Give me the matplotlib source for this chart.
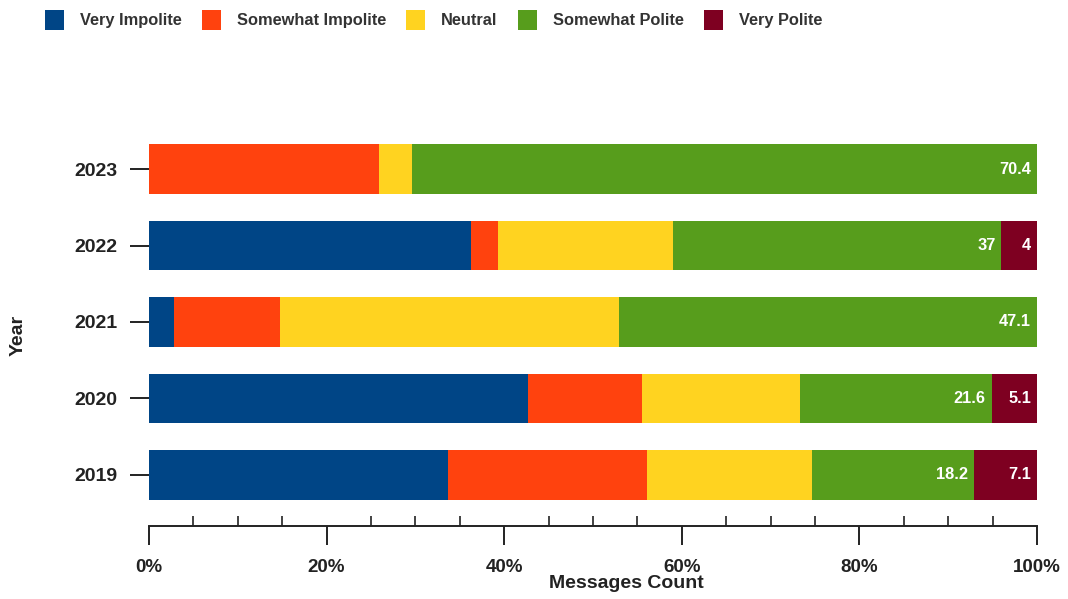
import matplotlib
matplotlib.use("Agg")
import matplotlib.pyplot as plt
from matplotlib.patches import Patch
from matplotlib.ticker import MultipleLocator, FixedLocator, FuncFormatter

plt.rcParams["font.family"] = ["Liberation Sans", "DejaVu Sans"]

years = ["2019", "2020", "2021", "2022", "2023"]
categories = ["Very Impolite", "Somewhat Impolite", "Neutral", "Somewhat Polite", "Very Polite"]
colors = ["#004586", "#ff420e", "#ffd320", "#579d1c", "#7e0021"]

very_impolite = [33.7, 42.7, 2.8, 36.3, 0.0]
somewhat_impolite = [22.4, 12.8, 11.9, 3.0, 25.9]
neutral = [18.6, 17.8, 38.2, 19.7, 3.7]
somewhat_polite = [18.2, 21.6, 47.1, 37.0, 70.4]
very_polite = [7.1, 5.1, 0.0, 4.0, 0.0]

series = [very_impolite, somewhat_impolite, neutral, somewhat_polite, very_polite]
labelled = {"Somewhat Polite", "Very Polite"}

W, H = 1068, 599
fig = plt.figure(figsize=(W / 100, H / 100), dpi=100)
ax = fig.add_axes([149 / W, (H - 526) / H, (1037 - 149) / W, (526 - 130) / H])

pos = list(range(len(years)))
left = [0.0] * len(years)
for name, vals, col in zip(categories, series, colors):
    bars = ax.barh(pos, vals, left=left, height=0.65, color=col, label=name, linewidth=0)
    if name in labelled:
        for b, v in zip(bars, vals):
            if v > 0:
                ax.annotate(f"{v:g}", xy=(b.get_x() + b.get_width(), b.get_y() + b.get_height() / 2),
                            xytext=(-6, 0), textcoords="offset pixels", ha="right", va="center",
                            color="white", fontsize=11.8, fontweight="bold")
    left = [l + v for l, v in zip(left, vals)]

ax.set_xlim(0, 100)
ax.set_ylim(-0.667, 4.51)
ax.set_yticks(pos)
ax.set_yticklabels(years, fontsize=14, fontweight="bold", color="#222222")

ax.xaxis.set_major_locator(MultipleLocator(20))
ax.xaxis.set_minor_locator(FixedLocator([x for x in range(5, 100, 5) if x % 20 != 0]))
ax.xaxis.set_major_formatter(FuncFormatter(lambda v, p: f"{v:.0f}%"))
ax.tick_params(axis="x", which="major", direction="out", length=14, width=1.4,
               pad=10, labelsize=13.5, color="#222222", labelcolor="#222222")
ax.tick_params(axis="x", which="minor", direction="in", length=7.5, width=1.2, color="#222222")
ax.tick_params(axis="y", which="major", direction="out", length=14, width=1.4, pad=9, color="#222222")
for t in ax.get_xticklabels():
    t.set_fontweight("bold")

for s in ["top", "right", "left"]:
    ax.spines[s].set_visible(False)
ax.spines["bottom"].set_linewidth(1.4)
ax.spines["bottom"].set_color("#222222")

ax.set_xlabel("Messages Count", fontsize=14, fontweight="bold", color="#222222")
ax.xaxis.set_label_coords((626 - 149) / (1037 - 149), -(584 - 526) / (526 - 130), transform=ax.transAxes)
ax.xaxis.label.set_va("center")
ax.set_ylabel("Year", fontsize=14, fontweight="bold", color="#222222")
ax.yaxis.set_label_coords(18 / W, 1 - 335 / H, transform=fig.transFigure)
ax.yaxis.label.set_va("center")

handles = [Patch(facecolor=c, edgecolor="none", label=n) for n, c in zip(categories, colors)]
leg = fig.legend(handles=handles, loc="center left", bbox_to_anchor=(45 / W, 1 - 20 / H),
                 ncol=5, frameon=False, borderaxespad=0, borderpad=0,
                 prop={"size": 11.8, "weight": "bold"},
                 handlelength=1.16, handleheight=1.5, handletextpad=0.98, columnspacing=1.22)
for t in leg.get_texts():
    t.set_color("#333333")

fig.savefig("out.png", dpi=100, facecolor="white")
